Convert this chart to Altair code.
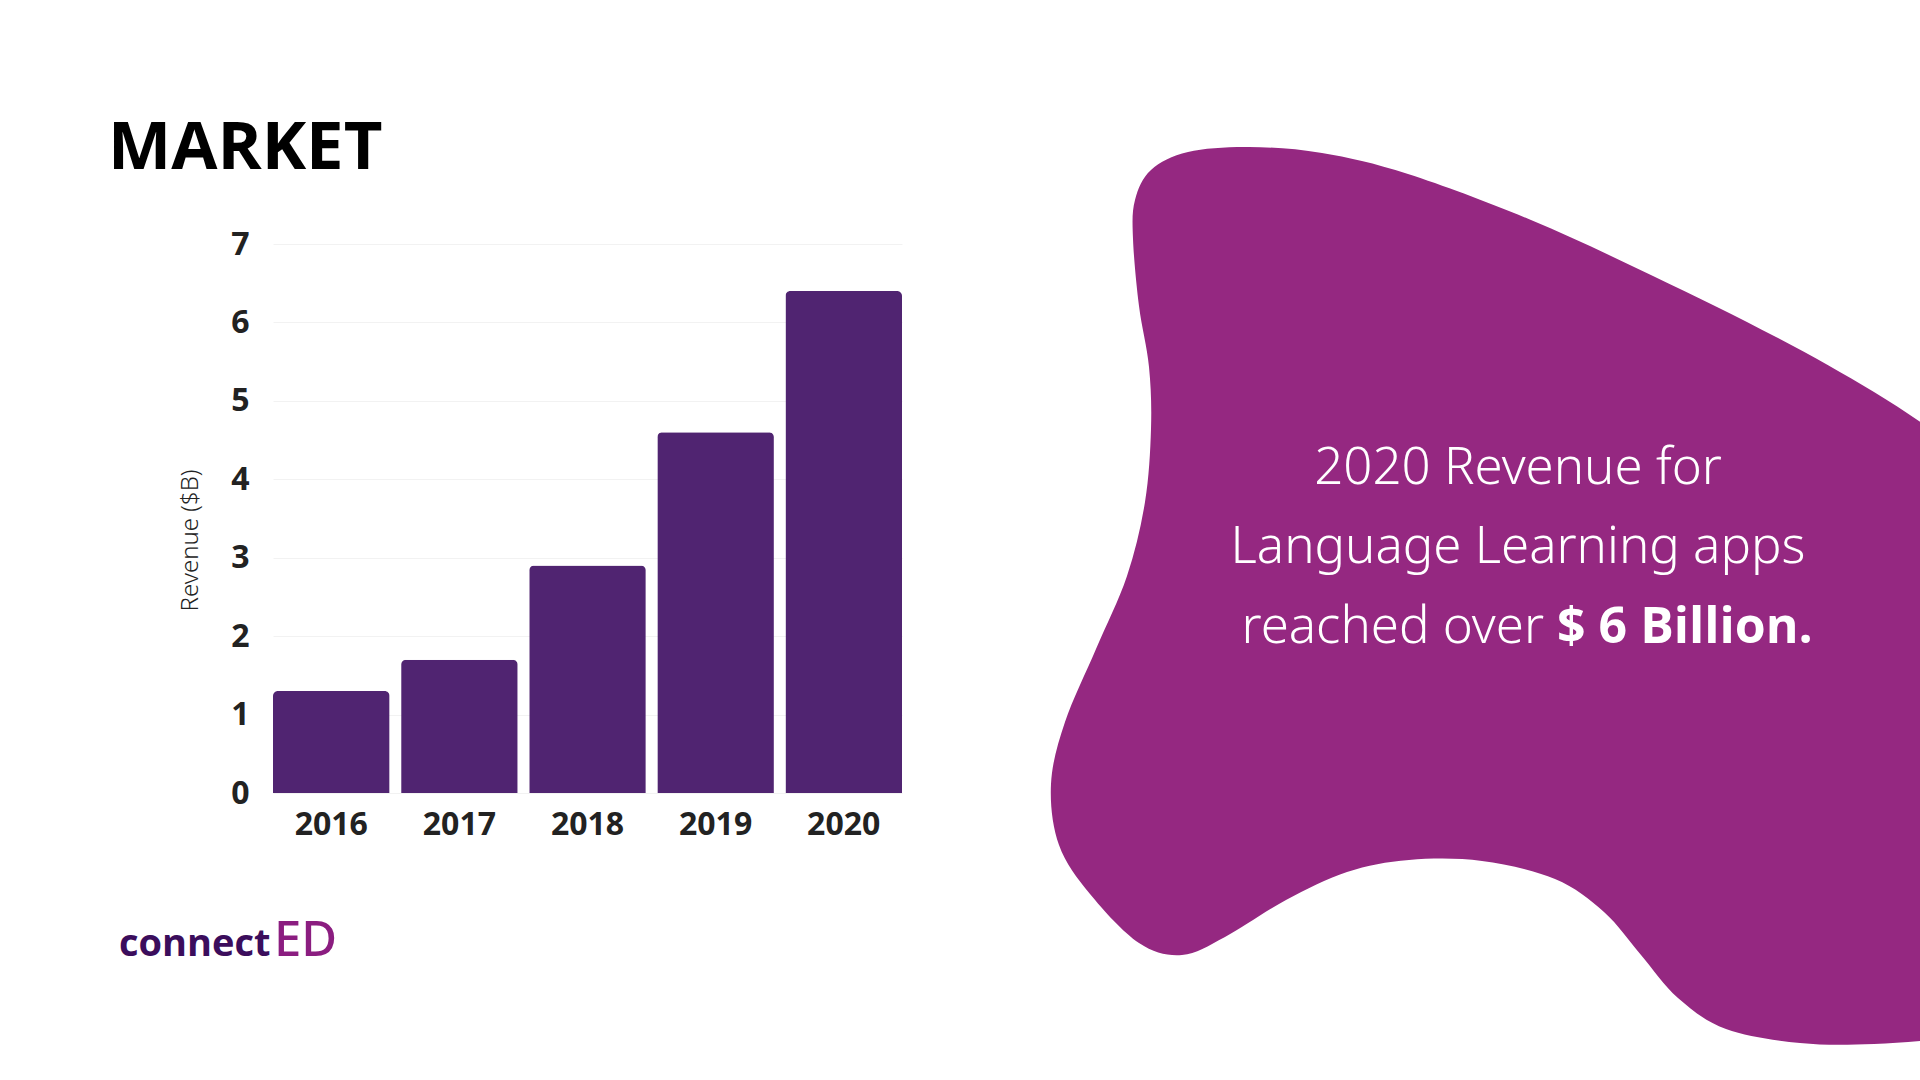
import altair as alt
import pandas as pd

# ---- data ----
years = ["2016", "2017", "2018", "2019", "2020"]
revenue = [1.3, 1.7, 2.9, 4.6, 6.4]
y_ticks = [0, 1, 2, 3, 4, 5, 6, 7]

title_text = "MARKET"
axis_title = "Revenue ($B)"
note_lines = ["2020 Revenue for", "Language Learning apps", "reached over"]
note_highlight = "$ 6 Billion."
logo_left = "connect"
logo_right = "ED"

# ---- layout (pixels) ----
PL, PT, W, H = 273, 244, 629, 549
PR, PB = 1920 - PL - W, 1080 - PT - H

BAR_COLOR = "#502471"
BLOB_COLOR = "#952881"

# decorative blob outline (page pixels), smoothed into a closed path
blob_pts = [
    (1249, 147), (1322, 153), (1408, 174), (1531, 220), (1653, 276), (1776, 337),
    (1874, 392), (1960, 448), (2060, 510), (2200, 760), (2060, 1025), (1960, 1037),
    (1874, 1044), (1800, 1043), (1726, 1029), (1678, 998), (1641, 955), (1604, 912),
    (1555, 879), (1482, 861), (1409, 860), (1347, 872), (1286, 900), (1225, 937),
    (1182, 955), (1139, 943), (1090, 894), (1059, 845), (1051, 784), (1065, 722),
    (1096, 649), (1127, 576), (1145, 502), (1151, 429), (1149, 367), (1139, 306),
    (1133, 239), (1135, 200), (1151, 170), (1188, 152),
]
AX, AY = 1500, 600


def smooth_path(pts, ax, ay):
    n = len(pts)
    p = [(x - ax, y - ay) for x, y in pts]
    d = f"M{p[0][0]:.1f},{p[0][1]:.1f}"
    for i in range(n):
        p0, p1, p2, p3 = p[i - 1], p[i], p[(i + 1) % n], p[(i + 2) % n]
        c1 = (p1[0] + (p2[0] - p0[0]) / 6, p1[1] + (p2[1] - p0[1]) / 6)
        c2 = (p2[0] - (p3[0] - p1[0]) / 6, p2[1] - (p3[1] - p1[1]) / 6)
        d += f" C{c1[0]:.1f},{c1[1]:.1f} {c2[0]:.1f},{c2[1]:.1f} {p2[0]:.1f},{p2[1]:.1f}"
    return d + " Z"


blob_path = smooth_path(blob_pts, AX, AY)

df = pd.DataFrame({"year": years, "revenue": revenue})
one = alt.Data(values=[{"k": 0}])

blob = alt.Chart(one).mark_point(
    shape=blob_path, size=4, filled=True, color=BLOB_COLOR, opacity=1, strokeWidth=0
).encode(x=alt.value(AX - PL), y=alt.value(AY - PT))

bars = alt.Chart(df).mark_bar(
    color=BAR_COLOR, cornerRadiusTopLeft=5, cornerRadiusTopRight=5
).encode(
    x=alt.X("year:N", sort=years,
            scale=alt.Scale(paddingInner=0.09, paddingOuter=0),
            axis=alt.Axis(title=None, labelAngle=0, domain=False, ticks=False,
                          labelFont="Open Sans", labelFontWeight="bold",
                          labelFontSize=32, labelColor="#222222", labelPadding=16)),
    y=alt.Y("revenue:Q", scale=alt.Scale(domain=[0, 7], nice=False),
            axis=alt.Axis(values=y_ticks, title=axis_title, domain=False, ticks=False,
                          grid=True, gridColor="#f2f2f2", gridWidth=1,
                          labelFont="Open Sans", labelFontWeight="bold",
                          labelFontSize=32, labelColor="#222222", labelPadding=24,
                          titleFont="Noto Sans", titleFontWeight=300,
                          titleFontSize=24, titleColor="#222222",
                          titleX=-83, titleY=296, titleAngle=-90,
                          titleAlign="center", titleBaseline="middle")),
)


def txt(text, x, y, size, weight="normal", font="Noto Sans", color="#ffffff", align="left"):
    return alt.Chart(one).mark_text(
        text=text, font=font, fontSize=size, fontWeight=weight, color=color,
        align=align, baseline="alphabetic"
    ).encode(x=alt.value(x - PL), y=alt.value(y - PT))


title = txt(title_text, 108, 169, 67, "bold", "Open Sans", "#000000")
n1 = txt(note_lines[0], 1518, 484, 51, weight=300, align="center")
n2 = txt(note_lines[1], 1518, 563, 51, weight=300, align="center")
n3 = txt(note_lines[2], 1544, 643, 51, weight=300, align="right")
n4 = txt(note_highlight, 1557, 643, 50, "bold", "Open Sans")
lg1 = txt(logo_left, 119, 956, 38, "bold", "Open Sans", "#3b0d5c")
lg2 = txt(logo_right, 274, 956, 49, 500, "Noto Sans", "#8b1d80")

chart = alt.layer(blob, bars, title, n1, n2, n3, n4, lg1, lg2).properties(
    width=W, height=H,
    autosize=alt.AutoSizeParams(type="none"),
    padding={"left": PL, "top": PT, "right": PR, "bottom": PB},
    background="#ffffff",
).configure_view(stroke=None)

chart.save("out.html", embed_options={"renderer": "svg", "actions": False})
